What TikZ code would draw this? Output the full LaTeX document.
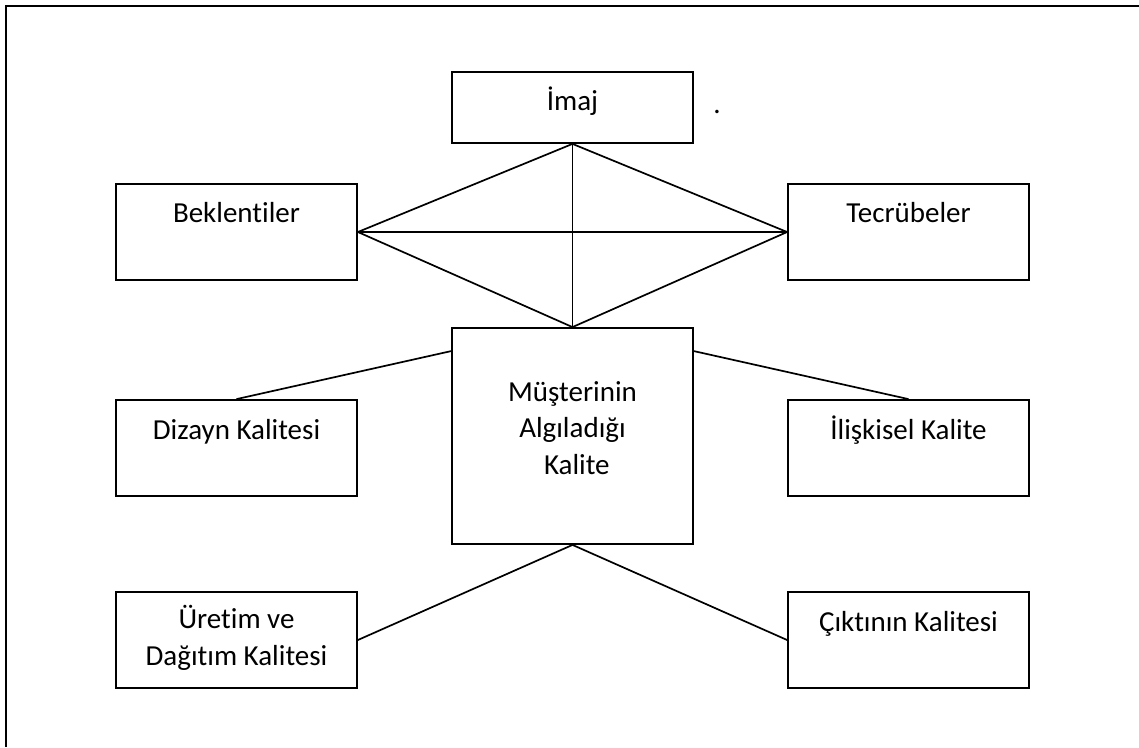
\documentclass[tikz,border=0pt]{standalone}
\usepackage{fontspec}
\setmainfont{Carlito}[Ligatures=NoCommon]
\begin{document}
\begin{tikzpicture}[x=1pt,y=-1pt,
  box/.style={draw, line width=1.8pt, minimum width=241pt, minimum height=96pt, inner sep=0pt},
  lbl/.style={anchor=base, align=center, inner sep=0pt, font=\fontsize{29}{36.5}\selectfont},
  link/.style={line width=1.7pt}]
\useasboundingbox (0,0) rectangle (1139,747);
% outer frame: its top and left edges run off the page
\coordinate (frtr) at (1139,6);
\coordinate (frtl) at (6,6);
\coordinate (frbl) at (6,747);
\draw[line width=2pt] (frtr) -- (frtl) -- (frbl);

% boxes
\node[box, minimum height=71pt] (imaj) at (572.5,107.5) {};
\node[box] (bek) at (236.5,232) {};
\node[box] (tec) at (908.5,232) {};
\node[box, minimum height=216pt] (ctr) at (572.5,436) {};
\node[box] (diz) at (236.5,448) {};
\node[box] (ili) at (908.5,448) {};
\node[box] (ure) at (236.5,640) {};
\node[box] (cik) at (908.5,640) {};

% texts (base anchor sits on the last line of a multi-line label)
\node[lbl] (timaj) at ([yshift=-39pt]imaj.north) {İmaj};
\node[lbl] (tbek) at ([yshift=-39pt]bek.north) {Beklentiler};
\node[lbl] (ttec) at ([yshift=-39pt]tec.north) {Tecrübeler};
\node[lbl] (tctr) at ([yshift=-147pt]ctr.north) {Müşterinin\\Algıladığı\\\hspace{0.3em}Kalite};
\node[lbl] (tdiz) at ([yshift=-40pt]diz.north) {Dizayn Kalitesi};
\node[lbl] (tili) at ([yshift=-40pt]ili.north) {İlişkisel Kalite};
\node[lbl] (ture) at ([yshift=-74pt]ure.north) {Üretim ve\\Dağıtım Kalitesi};
\node[lbl] (tcik) at ([yshift=-40pt]cik.north) {Çıktının Kalitesi};
\node[lbl] (dot) at (717,113) {.};

% side attachment points on the central box
\coordinate (cl) at ([yshift=-24pt]ctr.north west);
\coordinate (cr) at ([yshift=-24pt]ctr.north east);

% connectors
\draw[link] (imaj.south) -- (bek.east);
\draw[link] (imaj.south) -- (tec.west);
\draw[link] (imaj.south) -- (ctr.north);
\draw[link] (bek.east) -- (tec.west);
\draw[link] (bek.east) -- (ctr.north);
\draw[link] (tec.west) -- (ctr.north);
\draw[link] (cl) -- (diz.north);
\draw[link] (cr) -- (ili.north);
\draw[link] (ctr.south) -- (ure.east);
\draw[link] (ctr.south) -- (cik.west);
\end{tikzpicture}
\end{document}
